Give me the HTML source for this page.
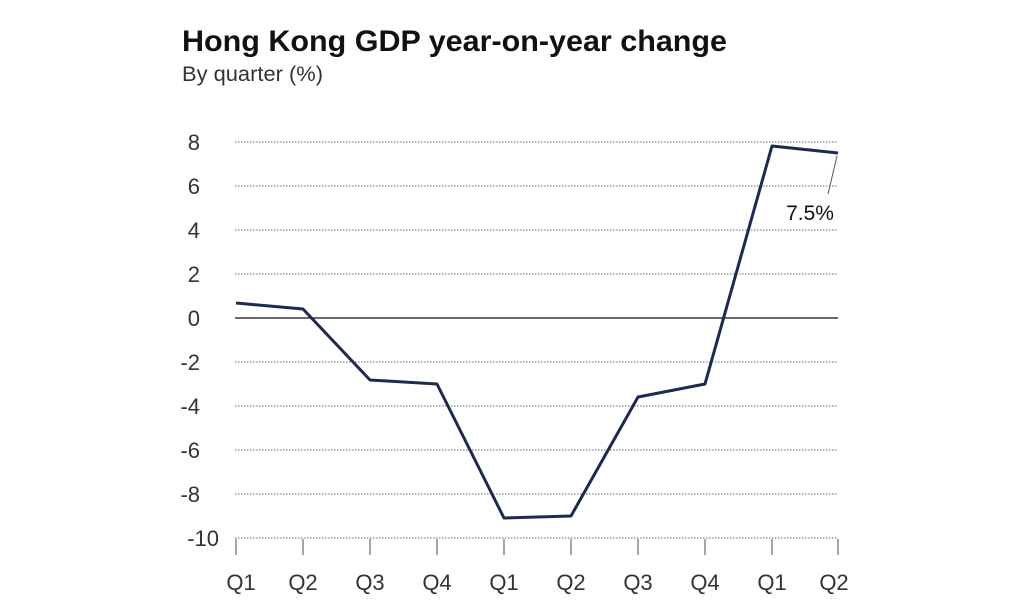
<!DOCTYPE html>
<html><head><meta charset="utf-8"><style>
html,body{margin:0;padding:0;background:#fff;}
</style></head><body>
<svg width="1024" height="597" viewBox="0 0 1024 597" xmlns="http://www.w3.org/2000/svg" font-family="Liberation Sans, sans-serif">
<rect width="1024" height="597" fill="#fff"/>
<text x="182" y="51" font-size="30" font-weight="bold" fill="#111" textLength="545" lengthAdjust="spacingAndGlyphs">Hong Kong GDP year-on-year change</text>
<text x="182" y="81" font-size="21.5" fill="#333" textLength="141" lengthAdjust="spacingAndGlyphs">By quarter (%)</text>
<g stroke="#666" stroke-width="1" stroke-dasharray="1.5,1.5">
<line x1="235" y1="142" x2="838" y2="142"/>
<line x1="235" y1="186" x2="838" y2="186"/>
<line x1="235" y1="230" x2="838" y2="230"/>
<line x1="235" y1="274" x2="838" y2="274"/>
<line x1="235" y1="362" x2="838" y2="362"/>
<line x1="235" y1="406" x2="838" y2="406"/>
<line x1="235" y1="450" x2="838" y2="450"/>
<line x1="235" y1="494" x2="838" y2="494"/>
<line x1="235" y1="538" x2="838" y2="538"/>
</g>
<line x1="235" y1="318" x2="838" y2="318" stroke="#111" stroke-width="1.3"/>
<g font-size="22" fill="#333" text-anchor="end">
<text x="200" y="150">8</text>
<text x="200" y="194">6</text>
<text x="200" y="238">4</text>
<text x="200" y="282">2</text>
<text x="200" y="326">0</text>
<text x="200" y="370">-2</text>
<text x="200" y="414">-4</text>
<text x="200" y="458">-6</text>
<text x="200" y="502">-8</text>
<text x="219" y="546">-10</text>
</g>
<g stroke="#777" stroke-width="1.3">
<line x1="236" y1="539" x2="236" y2="555"/>
<line x1="303" y1="539" x2="303" y2="555"/>
<line x1="370" y1="539" x2="370" y2="555"/>
<line x1="437" y1="539" x2="437" y2="555"/>
<line x1="504" y1="539" x2="504" y2="555"/>
<line x1="571" y1="539" x2="571" y2="555"/>
<line x1="638" y1="539" x2="638" y2="555"/>
<line x1="705" y1="539" x2="705" y2="555"/>
<line x1="772" y1="539" x2="772" y2="555"/>
<line x1="838" y1="539" x2="838" y2="555"/>
</g>
<g font-size="22" fill="#333" text-anchor="middle">
<text x="241" y="590">Q1</text>
<text x="303" y="590">Q2</text>
<text x="370" y="590">Q3</text>
<text x="437" y="590">Q4</text>
<text x="504" y="590">Q1</text>
<text x="571" y="590">Q2</text>
<text x="638" y="590">Q3</text>
<text x="705" y="590">Q4</text>
<text x="772" y="590">Q1</text>
<text x="834" y="590">Q2</text>
</g>
<polyline fill="none" stroke="#1c2a4f" stroke-width="3" stroke-linejoin="round"
points="236,303 303,309 370,380 437,384 504,518 571,516 638,397 705,384 772,146 838,153"/>
<line x1="837" y1="156" x2="828" y2="194" stroke="#555" stroke-width="1"/>
<text x="810" y="220" font-size="21" fill="#111" text-anchor="middle">7.5%</text>
</svg>
</body></html>
